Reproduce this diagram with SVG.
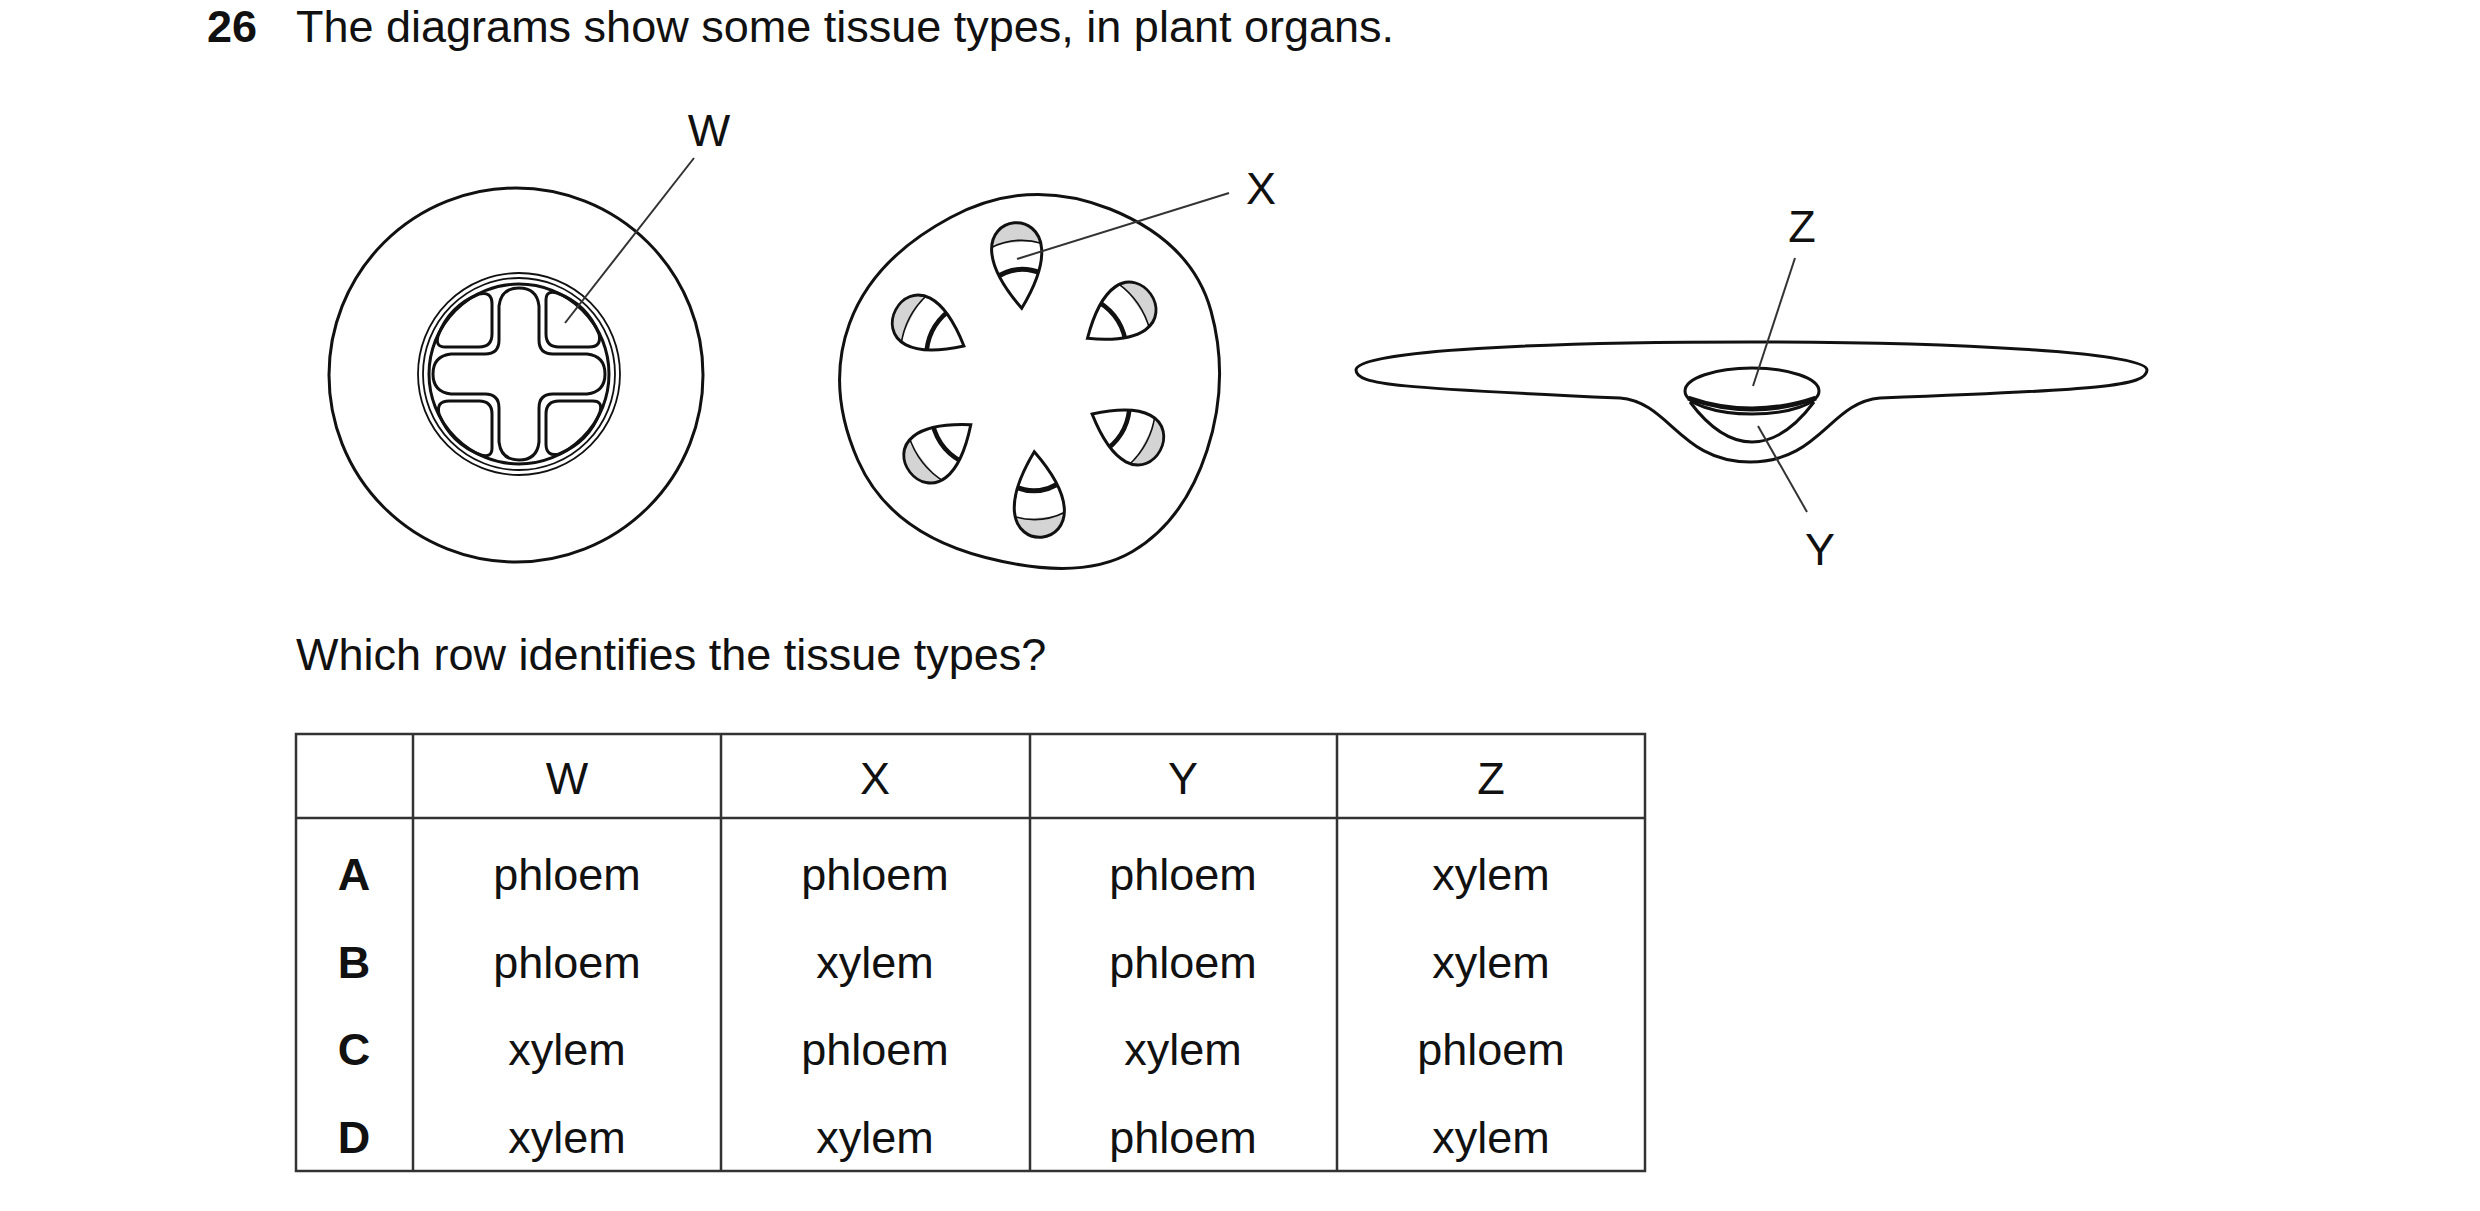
<svg xmlns="http://www.w3.org/2000/svg" width="2480" height="1211" viewBox="0 0 2480 1211">
<style>
text{font-family:"Liberation Sans",Arial,sans-serif;font-size:45px;fill:#111}
.b{font-weight:bold}
.m{text-anchor:middle}
.o{fill:none;stroke:#111;stroke-width:3}
.t{fill:none;stroke:#111;stroke-width:1.8}
.k{fill:none;stroke:#111;stroke-width:5}
.g{fill:none;stroke:#333;stroke-width:2}
</style>
<defs>
<path id="bp" d="M-25,28 C-25,-9 25,-9 25,28 C25,50 8,75 0,86 C-8,75 -25,50 -25,28 Z"/>
<clipPath id="bc"><use href="#bp"/></clipPath>
<g id="bundle">
<use href="#bp" fill="#d4d4d4"/>
<rect x="-30" y="20" width="60" height="70" fill="#fff" clip-path="url(#bc)"/>
<g clip-path="url(#bc)">
<path d="M-28,24 Q0,12 28,24" class="t"/>
<path d="M-28,56 Q0,38 28,56" class="k"/>
</g>
<use href="#bp" class="o"/>
</g>
<path id="pk" d="M27,-74 Q27,-84 38,-81 Q68,-70 80,-40 Q83,-27 70,-27 L40,-27 Q27,-27 27,-40 Z"/>
</defs>
<text x="207" y="42" class="b">26</text>
<text x="296" y="42">The diagrams show some tissue types, in plant organs.</text>
<g id="stem">
<circle cx="516" cy="375" r="187" class="o"/>
<circle cx="519" cy="374" r="101" class="t"/>
<circle cx="519" cy="374" r="96" class="t"/>
<circle cx="519" cy="374" r="90" class="o"/>
<g transform="translate(519,374)">
<path d="M-20,-68 Q-18,-86 0,-86 Q18,-86 20,-68 L20,-34 Q20,-20 34,-20 L68,-20 Q86,-18 86,0 Q86,18 68,20 L34,20 Q20,20 20,34 L20,68 Q18,86 0,86 Q-18,86 -20,68 L-20,34 Q-20,20 -34,20 L-68,20 Q-86,18 -86,0 Q-86,-18 -68,-20 L-34,-20 Q-20,-20 -20,-34 Z" class="o"/>
<use href="#pk" class="o"/>
<use href="#pk" class="o" transform="rotate(90)"/>
<use href="#pk" class="o" transform="rotate(180)"/>
<use href="#pk" class="o" transform="rotate(270)"/>
</g>
</g>
<g id="root">
<path d="M950.5,217.5 Q1028,176 1110,209 Q1192,242 1211,311 Q1230,380 1207,450.5 Q1184,521 1132.5,551.5 Q1081,582 985.5,557.5 Q890,533 858,460.5 Q826,388 849.5,323.5 Q873,259 950.5,217.5 Z" class="o"/>
<use href="#bundle" transform="translate(1028,380) rotate(-5) translate(0,-158)"/>
<use href="#bundle" transform="translate(1028,380) rotate(55) translate(0,-150) scale(1.05,0.9)"/>
<use href="#bundle" transform="translate(1028,380) rotate(118) translate(0,-150) scale(1.05,0.9)"/>
<use href="#bundle" transform="translate(1028,380) rotate(175) translate(0,-158)"/>
<use href="#bundle" transform="translate(1028,380) rotate(232) translate(0,-150) scale(1.05,0.9)"/>
<use href="#bundle" transform="translate(1028,380) rotate(298) translate(0,-150) scale(1.05,0.9)"/>
</g>
<g id="leaf">
<path d="M1356,370 C1356,350 1550,342 1750,342 C1950,342 2147,352 2147,370 C2147,386 2100,390 1880,398 C1830,402 1820,462 1750,462 C1680,462 1670,402 1620,398 C1400,388 1356,385 1356,370 Z" class="o"/>
<ellipse cx="1752" cy="391" rx="67" ry="23" class="o"/>
<path d="M1688,398 Q1752,420 1816,398" class="k"/>
<path d="M1690,402 Q1720,442 1752,442 Q1784,442 1814,402" class="o"/>
</g>
<g id="connectors">
<line x1="694" y1="158" x2="565" y2="323" class="g"/>
<line x1="1229" y1="193" x2="1017" y2="259" class="g"/>
<line x1="1795" y1="258" x2="1753" y2="386" class="g"/>
<line x1="1758" y1="426" x2="1807" y2="512" class="g"/>
</g>
<text x="709" y="146" class="m">W</text>
<text x="1261" y="204" class="m">X</text>
<text x="1802" y="242" class="m">Z</text>
<text x="1820" y="565" class="m">Y</text>
<text x="296" y="670">Which row identifies the tissue types?</text>
<g id="table">
<rect x="296" y="734" width="1349" height="437" fill="none" stroke="#333" stroke-width="2.5"/>
<line x1="296" y1="818" x2="1645" y2="818" stroke="#333" stroke-width="2.5"/>
<g stroke="#333" stroke-width="2.5">
<line x1="413" y1="734" x2="413" y2="1171"/><line x1="721" y1="734" x2="721" y2="1171"/><line x1="1030" y1="734" x2="1030" y2="1171"/><line x1="1337" y1="734" x2="1337" y2="1171"/>
</g>
<g>
<text x="567" y="794" class="m">W</text><text x="875" y="794" class="m">X</text><text x="1183" y="794" class="m">Y</text><text x="1491" y="794" class="m">Z</text>
<text x="354" y="890" class="m b">A</text><text x="567" y="890" class="m">phloem</text><text x="875" y="890" class="m">phloem</text><text x="1183" y="890" class="m">phloem</text><text x="1491" y="890" class="m">xylem</text>
<text x="354" y="978" class="m b">B</text><text x="567" y="978" class="m">phloem</text><text x="875" y="978" class="m">xylem</text><text x="1183" y="978" class="m">phloem</text><text x="1491" y="978" class="m">xylem</text>
<text x="354" y="1065" class="m b">C</text><text x="567" y="1065" class="m">xylem</text><text x="875" y="1065" class="m">phloem</text><text x="1183" y="1065" class="m">xylem</text><text x="1491" y="1065" class="m">phloem</text>
<text x="354" y="1153" class="m b">D</text><text x="567" y="1153" class="m">xylem</text><text x="875" y="1153" class="m">xylem</text><text x="1183" y="1153" class="m">phloem</text><text x="1491" y="1153" class="m">xylem</text>
</g>
</g>
</svg>
